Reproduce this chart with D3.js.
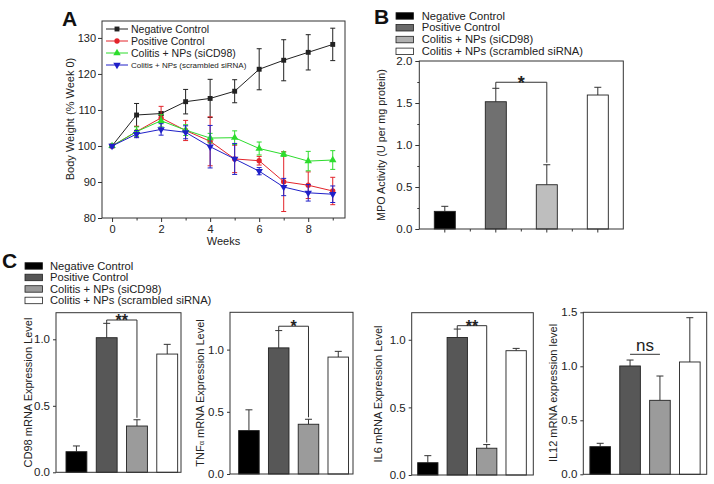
<!DOCTYPE html>
<html><head><meta charset="utf-8">
<script src="https://cdn.jsdelivr.net/npm/d3@7"></script>
<style>body{margin:0;background:#fff}svg{display:block}</style>
</head><body><svg id="c" width="714" height="484"></svg>
<script>
// ---------- DATA ----------
const weeks=[0,1,2,3,4,5,6,7,8,9];
const weekTicks=[0,2,4,6,8];
const weekMinor=[1,3,5,7,9];
const bwTicks=[80,90,100,110,120,130];
const lineNames=["Negative Control","Positive Control","Colitis + NPs (siCD98)","Colitis + NPs (scrambled siRNA)"];
const negMean=[100,108.6,109,112.3,113.2,115.2,121.3,123.8,126,128.2];
const negErr=[0.4,3.2,0.5,3.4,5.3,3.2,5.7,5.7,4.9,4.5];
const posMean=[100,104,107.8,104.3,101.3,96.4,95.9,90.1,89.1,87.5];
const posErr=[0.3,1.5,3.2,2.8,6.8,3.8,1.2,8.3,3.7,3.8];
const siMean=[100,104,107,104.4,102.2,102.3,99.3,97.7,95.8,96.1];
const siErr=[0.3,1.3,1.7,1.5,1.3,1.9,1.8,0.6,2.7,2.6];
const scMean=[100,103.3,104.6,103.8,99.8,96.4,93,88.6,87,86.6];
const scErr=[0.4,1,1.6,1.8,5.9,4.3,1,2.4,2.3,2.3];

const groups=["Negative  Control","Positive Control","Colitis + NPs (siCD98)","Colitis + NPs (scrambled  siRNA)"];
const mpoMean=[0.21,1.515,0.527,1.595];
const mpoErr=[0.06,0.16,0.238,0.092];
const mpoTicks=[0,0.5,1.0,1.5,2.0];
const mpoMinor=[0.25,0.75,1.25,1.75];
const cd98Mean=[0.155,1.012,0.348,0.889];
const cd98Err=[0.043,0.108,0.047,0.073];
const tnfMean=[0.349,1.014,0.40,0.94];
const tnfErr=[0.167,0.139,0.04,0.046];
const il6Mean=[0.091,1.017,0.198,0.919];
const il6Err=[0.052,0.062,0.027,0.017];
const il12Mean=[0.256,1.003,0.685,1.04];
const il12Err=[0.031,0.055,0.225,0.41];
const cTicks=[0,0.5,1.0];
const cTicks12=[0,0.5,1.0,1.5];

// ---------- DRAW ----------
const FONT='Arial, "Liberation Sans", sans-serif';
const svg=d3.select("#c").attr("font-family",FONT);
const fmt1=d3.format(".1f");

function styleAxis(g,fs){
  g.select(".domain").remove();
  g.attr("font-family",FONT).attr("font-size",fs);
  g.selectAll("line").attr("stroke","#333");
  g.selectAll("text").attr("fill","#222");
}
function ylabel(x,y,txt,fs){
  return svg.append("text").attr("transform",`translate(${x},${y}) rotate(-90)`)
    .attr("text-anchor","middle").attr("dy","0.35em").attr("font-size",fs).attr("fill","#222").text(txt);
}
function panelLetter(x,y,t){
  svg.append("text").attr("x",x).attr("y",y).attr("font-size",21).attr("font-weight","bold").attr("fill","#111").text(t);
}

// Panel A
const xA=d3.scaleLinear().domain([-0.41,9.5]).range([102,345]);
const yA=d3.scaleLinear().domain([80,134.7]).range([218,21]);
svg.append("g").attr("transform","translate(0,218)")
  .call(d3.axisBottom(xA).tickValues(weekTicks).tickFormat(d3.format("d")).tickSize(4).tickPadding(3))
  .call(g=>styleAxis(g,11));
svg.append("g").attr("transform","translate(0,218)")
  .call(d3.axisBottom(xA).tickValues(weekMinor).tickFormat("").tickSize(2.5))
  .call(g=>styleAxis(g,11));
svg.append("g").attr("transform","translate(102,0)")
  .call(d3.axisLeft(yA).tickValues(bwTicks).tickSize(4).tickPadding(2))
  .call(g=>styleAxis(g,11));
svg.append("rect").attr("x",102).attr("y",21).attr("width",243).attr("height",197)
  .attr("fill","none").attr("stroke","#333").attr("stroke-width",1);
svg.append("text").attr("x",(102+345)/2).attr("y",244.5).attr("text-anchor","middle").attr("font-size",11).attr("fill","#222").text("Weeks");
ylabel(70,119,"Body Weight (% Week 0)",11);
panelLetter(62,26,"A");

const series=[
  {name:lineNames[0],m:negMean,e:negErr,c:"#222222",sym:d3.symbolSquare,size:24,rot:0,fs:10.5},
  {name:lineNames[1],m:posMean,e:posErr,c:"#e3242b",sym:d3.symbolCircle,size:22,rot:0,fs:10.5},
  {name:lineNames[2],m:siMean,e:siErr,c:"#2ddc2d",sym:d3.symbolTriangle,size:24,rot:0,fs:10.5},
  {name:lineNames[3],m:scMean,e:scErr,c:"#2020c8",sym:d3.symbolTriangle,size:24,rot:180,fs:8}
];
const line=d3.line().x((d,i)=>xA(weeks[i])).y(d=>yA(d));
series.forEach(s=>{
  const g=svg.append("g");
  g.append("path").attr("d",line(s.m)).attr("fill","none").attr("stroke",s.c).attr("stroke-width",1);
  weeks.forEach((w,i)=>{
    const x=xA(w),y1=yA(s.m[i]-s.e[i]),y2=yA(s.m[i]+s.e[i]);
    g.append("line").attr("x1",x).attr("x2",x).attr("y1",y1).attr("y2",y2).attr("stroke",s.c).attr("stroke-width",1);
    [y1,y2].forEach(yy=>g.append("line").attr("x1",x-2.5).attr("x2",x+2.5).attr("y1",yy).attr("y2",yy).attr("stroke",s.c).attr("stroke-width",1));
  });
  g.selectAll("path.m").data(s.m).join("path").attr("class","m")
    .attr("d",d3.symbol().type(s.sym).size(s.size))
    .attr("transform",(d,i)=>`translate(${xA(weeks[i])},${yA(d)}) rotate(${s.rot})`)
    .attr("fill",s.c);
});
// legend A
series.forEach((s,i)=>{
  const y=29+i*12;
  svg.append("line").attr("x1",106).attr("x2",128).attr("y1",y).attr("y2",y).attr("stroke",s.c).attr("stroke-width",1);
  svg.append("path").attr("d",d3.symbol().type(s.sym).size(s.size)()).attr("transform",`translate(117,${y}) rotate(${s.rot})`).attr("fill",s.c);
  svg.append("text").attr("x",131).attr("y",y).attr("dy","0.35em").attr("font-size",s.fs).attr("fill","#222").text(s.name);
});

// ---------- Bar panels ----------
function barLegend(rx,tx,y0,step,fills){
  groups.forEach((name,i)=>{
    const y=y0+i*step;
    svg.append("rect").attr("x",rx).attr("y",y-3).attr("width",17.5).attr("height",6.5)
      .attr("fill",fills[i]).attr("stroke","#222").attr("stroke-width",0.8);
    svg.append("text").attr("x",tx).attr("y",y).attr("dy","0.35em").attr("font-size",11.2).attr("fill","#222").text(name);
  });
}
function barPanel(o){
  const x=d3.scaleBand().domain(groups).range([o.x0,o.x1]).paddingInner(o.pi).paddingOuter(o.po).align(o.align);
  const y=d3.scaleLinear().domain([0,o.ymax]).range([o.y1,o.y0]);
  const g=svg.append("g");
  g.append("g").attr("transform",`translate(${o.x0},0)`)
    .call(d3.axisLeft(y).tickValues(o.ticks).tickFormat(fmt1).tickSize(o.ts).tickPadding(3))
    .call(a=>styleAxis(a,11.5));
  if(o.minor) g.append("g").attr("transform",`translate(${o.x0},0)`)
    .call(d3.axisLeft(y).tickValues(o.minor).tickFormat("").tickSize(2))
    .call(a=>styleAxis(a,11));
  if(o.xticks){
    const cs=groups.map(k=>x(k)+x.bandwidth()/2);
    const mids=cs.slice(1).map((c,i)=>(c+cs[i])/2);
    cs.forEach(c=>g.append("line").attr("x1",c).attr("x2",c).attr("y1",o.y1).attr("y2",o.y1+3.5).attr("stroke","#333"));
    mids.forEach(c=>g.append("line").attr("x1",c).attr("x2",c).attr("y1",o.y1).attr("y2",o.y1+2.5).attr("stroke","#333"));
  }
  groups.forEach((k,i)=>{
    const cx=x(k)+x.bandwidth()/2, top=y(o.m[i]), et=y(o.m[i]+o.e[i]);
    g.append("line").attr("x1",cx).attr("x2",cx).attr("y1",top).attr("y2",et).attr("stroke","#333").attr("stroke-width",1);
    g.append("line").attr("x1",cx-3.5).attr("x2",cx+3.5).attr("y1",et).attr("y2",et).attr("stroke","#333").attr("stroke-width",1);
    g.append("rect").attr("x",x(k)).attr("y",top).attr("width",x.bandwidth()).attr("height",o.y1-top)
      .attr("fill",o.fills[i]).attr("stroke","#222").attr("stroke-width",0.9);
  });
  g.append("rect").attr("x",o.x0).attr("y",o.y0).attr("width",o.x1-o.x0).attr("height",o.y1-o.y0)
    .attr("fill","none").attr("stroke","#333").attr("stroke-width",1);
  // significance
  if(o.sig){
    const c1=x(groups[1])+x.bandwidth()/2, c2=x(groups[2])+x.bandwidth()/2;
    const ly=y(o.sig.at);
    if(o.sig.drop){
      g.append("path").attr("d",`M${c1},${y(o.m[1]+o.e[1])}V${ly}H${c2}V${y(o.m[2]+o.e[2])-2}`)
        .attr("fill","none").attr("stroke","#333").attr("stroke-width",1);
      g.append("text").attr("x",(c1+c2)/2).attr("y",ly+o.sig.fs*0.38).attr("text-anchor","middle")
        .attr("font-size",o.sig.fs).attr("font-weight","bold").attr("fill","#222").text(o.sig.t);
    } else {
      g.append("line").attr("x1",c1).attr("x2",c2).attr("y1",ly).attr("y2",ly).attr("stroke","#333");
      g.append("text").attr("x",(c1+c2)/2).attr("y",ly-3).attr("text-anchor","middle")
        .attr("font-size",o.sig.fs).attr("fill","#222").text(o.sig.t);
    }
  }
}

// Panel B
panelLetter(374,23.5,"B");
barLegend(396,421.7,15.7,11.8,["#000","#6a6a6a","#b0b0b0","#fff"]);
barPanel({x0:419.3,x1:623.3,y0:61,y1:229,ymax:2,ticks:mpoTicks,minor:mpoMinor,ts:4,pi:0.588,po:0.294,align:0.5,
  m:mpoMean,e:mpoErr,fills:["#000","#707070","#bebebe","#fff"],xticks:true,sig:{at:1.747,t:"*",fs:18,drop:true}});
ylabel(381.7,145,"MPO Activity (U per mg protein)",10.8);

// Panel C
panelLetter(2,268,"C");
barLegend(25,50,265.7,11.5,["#000","#555","#9a9a9a","#fff"]);
const cF=["#000","#575757","#9b9b9b","#fff"];
barPanel({x0:56,x1:181,y0:312.7,y1:472.3,ymax:1.2,ticks:cTicks,ts:3,pi:0.31,po:0.22,align:0.75,
  m:cd98Mean,e:cd98Err,fills:cF,sig:{at:1.145,t:"**",fs:16,drop:true}});
ylabel(28,392.5,"CD98  mRNA Expression Level",11);
barPanel({x0:230,x1:353,y0:312.3,y1:474,ymax:1.3,ticks:cTicks,ts:3,pi:0.31,po:0.22,align:0.66,
  m:tnfMean,e:tnfErr,fills:cF,sig:{at:1.188,t:"*",fs:16,drop:true}});
{
  const t=svg.append("text").attr("transform",`translate(200,393) rotate(-90)`).attr("text-anchor","middle")
    .attr("dy","0.35em").attr("font-size",11).attr("fill","#222");
  t.append("tspan").text("TNF");
  t.append("tspan").attr("font-size",7.5).text("α");
  t.append("tspan").text("  mRNA Expression Level");
}
barPanel({x0:411.7,x1:533.3,y0:312.7,y1:475,ymax:1.2,ticks:cTicks,ts:3,pi:0.31,po:0.22,align:0.46,
  m:il6Mean,e:il6Err,fills:cF,sig:{at:1.104,t:"**",fs:16,drop:true}});
ylabel(378,394,"IL6 mRNA Expression Level",11);
barPanel({x0:583.3,x1:706.7,y0:312.3,y1:474.3,ymax:1.5,ticks:cTicks12,ts:3,pi:0.31,po:0.22,align:0.5,
  m:il12Mean,e:il12Err,fills:cF,sig:{at:1.111,t:"ns",fs:17,drop:false}});
ylabel(553,393,"IL12  mRNA expression level",11);
</script></body></html>
